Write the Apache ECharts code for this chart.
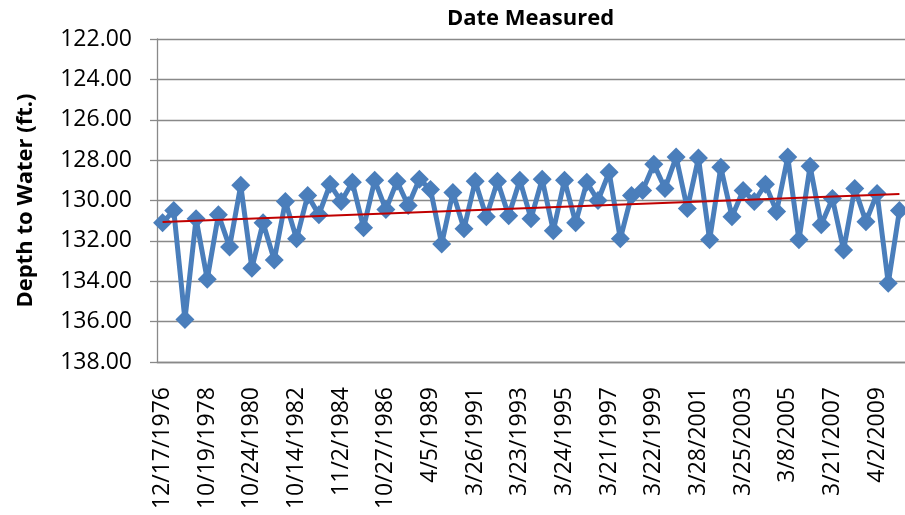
<!DOCTYPE html>
<html><head><meta charset="utf-8">
<script src="https://cdn.jsdelivr.net/npm/echarts@6/dist/echarts.min.js"></script>
<style>html,body{margin:0;padding:0;background:#fff}#c{width:905px;height:515px}</style>
</head><body><div id="c"></div>
<script>
// Category labels (only every 4th date is legible in the source chart)
const dates = [
  '12/17/1976','','','',
  '10/19/1978','','','',
  '10/24/1980','','','',
  '10/14/1982','','','',
  '11/2/1984','','','',
  '10/27/1986','','','',
  '4/5/1989','','','',
  '3/26/1991','','','',
  '3/23/1993','','','',
  '3/24/1995','','','',
  '3/21/1997','','','',
  '3/22/1999','','','',
  '3/28/2001','','','',
  '3/25/2003','','','',
  '3/8/2005','','','',
  '3/21/2007','','','',
  '4/2/2009','',''
];
// Depth to water (ft.)
const depth = [
  131.1, 130.5, 135.9, 130.9, 133.9, 130.7, 132.3, 129.25,
  133.35, 131.1, 132.95, 130.05, 131.9, 129.75, 130.7, 129.2,
  130.05, 129.1, 131.35, 129.0, 130.45, 129.05, 130.25, 128.95,
  129.45, 132.15, 129.6, 131.4, 129.05, 130.8, 129.05, 130.75,
  129.0, 130.9, 128.95, 131.5, 129.0, 131.1, 129.1, 130.0,
  128.6, 131.9, 129.75, 129.5, 128.2, 129.4, 127.85, 130.4,
  127.9, 131.95, 128.35, 130.8, 129.5, 130.05, 129.2, 130.55,
  127.85, 131.95, 128.3, 131.2, 129.9, 132.45, 129.4, 131.05,
  129.65, 134.1, 130.5
];
// Linear trend line end values
const trendStart = 131.07;
const trendEnd = 129.68;
const yTicks = { min: 122, max: 138, interval: 2 };

const FONT = 'Open Sans';
const GRID_COLOR = '#898989';
const chart = echarts.init(document.getElementById('c'), null, { renderer: 'canvas' });
chart.setOption({
  animation: false,
  backgroundColor: '#ffffff',
  title: {
    text: 'Date Measured',
    left: 447, top: 8, padding: 0,
    textStyle: { fontFamily: FONT, fontSize: 22, fontWeight: 'bold', color: '#000' }
  },
  grid: { left: 157, right: 0, top: 39, bottom: 153 },
  xAxis: {
    type: 'category',
    data: dates,
    boundaryGap: true,
    axisLine: { lineStyle: { color: GRID_COLOR, width: 1.3 } },
    axisTick: { show: false },
    axisLabel: {
      rotate: 90, interval: 3, margin: 25,
      fontFamily: FONT, fontSize: 23, color: '#000'
    },
    splitLine: { show: false }
  },
  yAxis: {
    type: 'value',
    inverse: true,
    min: yTicks.min, max: yTicks.max, interval: yTicks.interval,
    name: 'Depth to Water (ft.)',
    nameLocation: 'middle',
    nameGap: 120,
    nameTextStyle: { fontFamily: FONT, fontSize: 22, fontWeight: 'bold', color: '#000' },
    axisLine: { show: true, lineStyle: { color: GRID_COLOR, width: 1.3 } },
    axisTick: { show: true, length: 7, lineStyle: { color: GRID_COLOR, width: 1.3 } },
    axisLabel: {
      margin: 25, fontFamily: FONT, fontSize: 23, color: '#000',
      formatter: v => v.toFixed(2)
    },
    splitLine: { show: true, lineStyle: { color: GRID_COLOR, width: 1.3 } }
  },
  series: [
    {
      type: 'line',
      data: depth,
      symbol: 'diamond',
      symbolSize: 19,
      showAllSymbol: true,
      lineStyle: { color: '#4a7ebb', width: 5 },
      itemStyle: { color: '#4a7ebb' },
      z: 2
    },
    {
      type: 'line',
      data: [[0, trendStart], [depth.length - 1, trendEnd]],
      symbol: 'none',
      lineStyle: { color: '#c00000', width: 2 },
      z: 3
    }
  ]
});
</script>
</body></html>
